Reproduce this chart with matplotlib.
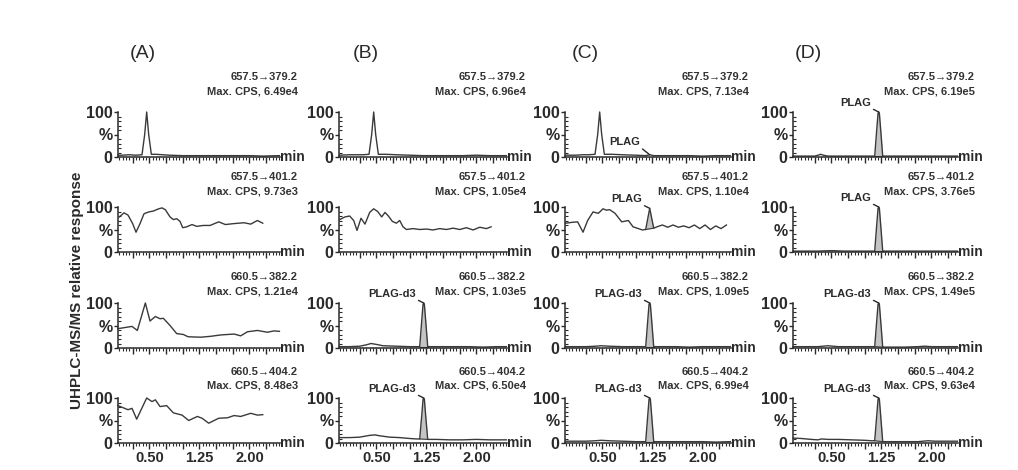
import numpy as np
import matplotlib
matplotlib.use('Agg')
import matplotlib.pyplot as plt
from matplotlib.ticker import FixedLocator, MultipleLocator

plt.rcParams['font.family'] = ['Liberation Sans', 'DejaVu Sans']
plt.rcParams['font.weight'] = 'bold'

# panel texts
columns = ['(A)', '(B)', '(C)', '(D)']
transitions = ['657.5→379.2', '657.5→401.2', '660.5→382.2', '660.5→404.2']
max_cps = [
    ['6.49e4', '9.73e3', '1.21e4', '8.48e3'],
    ['6.96e4', '1.05e4', '1.03e5', '6.50e4'],
    ['7.13e4', '1.10e4', '1.09e5', '6.99e4'],
    ['6.19e5', '3.76e5', '1.49e5', '9.63e4'],
]
x_labels = ['0.50', '1.25', '2.00']

# chromatograms (time in min, relative response in %)
a1_t = [0.03, 0.10, 0.20, 0.30, 0.39, 0.43, 0.46, 0.49, 0.53, 0.60, 0.70, 0.80, 1.00, 1.20, 1.40, 1.60, 1.80, 2.00, 2.20, 2.45]
a1_y = [4, 4, 5, 4, 5, 50, 100, 50, 6, 6, 5, 4, 3, 3, 3, 3, 3, 3, 2, 3]
a2_t = [0.05, 0.12, 0.18, 0.25, 0.30, 0.36, 0.42, 0.49, 0.56, 0.64, 0.69, 0.74, 0.81, 0.86, 0.91, 0.96, 1.00, 1.06, 1.14,
        1.21, 1.31, 1.41, 1.54, 1.64, 1.76, 1.92, 2.02, 2.12, 2.20]
a2_y = [78, 87, 82, 63, 44, 63, 85, 89, 91, 96, 98, 94, 78, 72, 74, 68, 54, 56, 61, 57, 59, 59, 67, 61, 63, 65, 62, 70, 64]
a3_t = [0.03, 0.24, 0.32, 0.44, 0.51, 0.59, 0.66, 0.71, 0.81, 0.91, 1.01, 1.08, 1.27, 1.42, 1.57, 1.77, 1.87, 1.97, 2.12,
        2.27, 2.37, 2.45]
a3_y = [43, 48, 39, 100, 60, 70, 65, 66, 50, 32, 30, 25, 24, 26, 29, 31, 27, 36, 39, 35, 38, 37]
a4_t = [0.03, 0.18, 0.24, 0.31, 0.46, 0.54, 0.59, 0.66, 0.76, 0.86, 0.99, 1.09, 1.22, 1.29, 1.39, 1.54, 1.67, 1.77, 1.87,
        2.02, 2.12, 2.20]
a4_y = [83, 74, 77, 53, 100, 92, 96, 81, 83, 67, 62, 50, 59, 55, 44, 55, 56, 61, 59, 66, 62, 63]

b1_t = [-0.05, 0.10, 0.20, 0.30, 0.39, 0.43, 0.46, 0.49, 0.53, 0.65, 0.80, 1.00, 1.20, 1.40, 1.60, 1.80, 2.00, 2.20, 2.45]
b1_y = [4, 5, 5, 5, 6, 50, 100, 50, 6, 6, 5, 4, 3, 3, 3, 3, 4, 3, 3]
b2_t = [-0.05, 0.03, 0.10, 0.16, 0.21, 0.27, 0.33, 0.40, 0.46, 0.52, 0.58, 0.63, 0.68, 0.74, 0.80, 0.85, 0.90, 0.95,
        1.05, 1.15, 1.25, 1.35, 1.45, 1.55, 1.65, 1.75, 1.85, 1.95, 2.05, 2.15, 2.22]
b2_y = [72, 78, 80, 70, 48, 75, 62, 88, 96, 90, 78, 88, 80, 68, 64, 70, 56, 50, 52, 50, 51, 49, 52, 50, 53, 50, 54, 49,
        55, 52, 56]
b3_t = [-0.05, 0.10, 0.25, 0.35, 0.42, 0.50, 0.60, 0.80, 1.00, 1.10, 1.15, 1.18, 1.20, 1.21, 1.22, 1.24, 1.27, 1.35,
        1.50, 1.70, 1.90, 2.10, 2.30, 2.45]
b3_y = [3, 3, 4, 7, 10, 8, 5, 4, 3, 3, 3, 60, 97, 100, 97, 60, 3, 3, 3, 3, 3, 2, 3, 3]
b4_t = [-0.05, 0.10, 0.25, 0.40, 0.48, 0.55, 0.70, 0.85, 1.00, 1.10, 1.15, 1.18, 1.20, 1.21, 1.22, 1.24, 1.27, 1.40,
        1.60, 1.80, 2.00, 2.20, 2.45]
b4_y = [12, 12, 13, 17, 18, 16, 13, 12, 10, 9, 9, 60, 97, 100, 97, 60, 8, 8, 7, 7, 8, 7, 7]

c1_t = [-0.05, 0.10, 0.20, 0.30, 0.39, 0.43, 0.46, 0.49, 0.53, 0.65, 0.80, 1.00, 1.15, 1.21, 1.27, 1.40, 1.60, 1.80,
        2.00, 2.20, 2.42]
c1_y = [4, 4, 5, 5, 6, 50, 100, 50, 6, 6, 5, 4, 3, 5, 3, 3, 3, 3, 2, 3, 3]
c2_t = [-0.05, 0.05, 0.13, 0.21, 0.28, 0.36, 0.44, 0.51, 0.56, 0.61, 0.69, 0.79, 0.89, 0.96, 1.04, 1.10, 1.15, 1.21,
        1.27, 1.32, 1.40, 1.48, 1.56, 1.64, 1.72, 1.80, 1.88, 1.96, 2.04, 2.12, 2.20, 2.28, 2.36]
c2_y = [64, 66, 67, 44, 70, 89, 86, 96, 93, 94, 86, 67, 70, 56, 52, 49, 50, 97, 53, 56, 60, 55, 60, 55, 58, 54, 60, 52,
        60, 50, 58, 52, 60]
c3_t = [-0.05, 0.10, 0.25, 0.40, 0.48, 0.60, 0.80, 1.00, 1.10, 1.15, 1.18, 1.20, 1.21, 1.22, 1.24, 1.27, 1.40, 1.60,
        1.80, 2.00, 2.20, 2.42]
c3_y = [3, 3, 3, 4, 5, 4, 3, 3, 3, 3, 60, 97, 100, 97, 60, 3, 3, 3, 2, 3, 3, 3]
c4_t = [-0.05, 0.10, 0.25, 0.40, 0.48, 0.60, 0.80, 1.00, 1.10, 1.15, 1.18, 1.20, 1.21, 1.22, 1.24, 1.27, 1.40, 1.60,
        1.80, 2.00, 2.20, 2.42]
c4_y = [4, 4, 4, 5, 6, 5, 4, 3, 3, 3, 60, 97, 100, 97, 60, 3, 3, 3, 3, 3, 2, 3]

d1_t = [-0.07, 0.10, 0.25, 0.30, 0.34, 0.38, 0.45, 0.60, 0.80, 1.00, 1.10, 1.15, 1.18, 1.20, 1.21, 1.22, 1.24, 1.27,
        1.40, 1.60, 1.80, 2.00, 2.20, 2.39]
d1_y = [2, 2, 2, 4, 6, 4, 2, 2, 2, 2, 2, 2, 60, 97, 100, 97, 60, 2, 2, 2, 2, 2, 2, 2]
d2_t = [-0.07, 0.10, 0.30, 0.50, 0.70, 0.90, 1.05, 1.15, 1.18, 1.20, 1.21, 1.22, 1.24, 1.27, 1.40, 1.60, 1.80, 2.00,
        2.20, 2.39]
d2_y = [2, 2, 2, 3, 2, 2, 2, 2, 60, 97, 100, 97, 60, 2, 2, 2, 2, 2, 2, 2]
d3_t = [-0.07, 0.10, 0.30, 0.45, 0.60, 0.80, 1.00, 1.15, 1.18, 1.20, 1.21, 1.22, 1.24, 1.27, 1.40, 1.60, 1.80, 1.90,
        2.00, 2.20, 2.39]
d3_y = [3, 3, 3, 5, 3, 3, 3, 3, 60, 97, 100, 97, 60, 2, 2, 2, 3, 4, 3, 3, 3]
d4_t = [-0.07, 0.05, 0.20, 0.30, 0.35, 0.45, 0.60, 0.80, 1.00, 1.10, 1.15, 1.18, 1.20, 1.21, 1.22, 1.24, 1.27, 1.40,
        1.60, 1.80, 1.95, 2.05, 2.20, 2.39]
d4_y = [11, 10, 8, 7, 9, 8, 8, 7, 6, 5, 5, 60, 97, 100, 97, 60, 3, 3, 3, 3, 5, 4, 4, 4]

traces = [
    [(a1_t, a1_y), (a2_t, a2_y), (a3_t, a3_y), (a4_t, a4_y)],
    [(b1_t, b1_y), (b2_t, b2_y), (b3_t, b3_y), (b4_t, b4_y)],
    [(c1_t, c1_y), (c2_t, c2_y), (c3_t, c3_y), (c4_t, c4_y)],
    [(d1_t, d1_y), (d2_t, d2_y), (d3_t, d3_y), (d4_t, d4_y)],
]

# labelled peaks: (col, row) -> (name, retention time, peak start, peak end)
peaks = {
    (1, 2): ('PLAG-d3', 1.21, 1.15, 1.27), (1, 3): ('PLAG-d3', 1.21, 1.15, 1.27),
    (2, 0): ('PLAG', 1.21, None, None), (2, 1): ('PLAG', 1.21, 1.15, 1.27),
    (2, 2): ('PLAG-d3', 1.21, 1.15, 1.27), (2, 3): ('PLAG-d3', 1.21, 1.15, 1.27),
    (3, 0): ('PLAG', 1.21, 1.15, 1.27), (3, 1): ('PLAG', 1.21, 1.15, 1.27),
    (3, 2): ('PLAG-d3', 1.21, 1.15, 1.27), (3, 3): ('PLAG-d3', 1.21, 1.15, 1.27),
}

# layout in pixels
W, H = 1018, 470
col_px = [(118, 280), (339, 507), (565, 731), (793, 958)]
col_t0 = [116, 343, 569, 798]
px_per_min = 66.7
row_zero = [157, 252, 348, 443]
ax_h = 45
title_x = [143, 366, 585, 808]
text_right = [298, 526, 749, 975]
text_y1 = [77, 177, 277, 372]
text_y2 = [91, 192, 292, 386]

ink = '#2a2a2a'
narrow = ['Liberation Sans Narrow', 'Liberation Sans', 'DejaVu Sans']
fig = plt.figure(figsize=(W / 100, H / 100), dpi=100)

for c in range(4):
    xl, xr = col_px[c]
    xlim = ((xl - col_t0[c]) / px_per_min, (xr - col_t0[c]) / px_per_min)
    fig.text(title_x[c] / W, 1 - 53 / H, columns[c], ha='center', va='center',
             fontsize=14, fontweight='normal', color=ink)
    for r in range(4):
        ax = fig.add_axes([xl / W, 1 - row_zero[r] / H, (xr - xl) / W, ax_h / H])
        t, y = traces[c][r]
        ax.plot(t, y, color='#3a3a3a', lw=1.0, clip_on=False)
        if (c, r) in peaks:
            name, rt, p0, p1 = peaks[(c, r)]
            if p0 is not None:
                tt = np.array(t)
                yy = np.array(y)
                m = (tt >= p0) & (tt <= p1)
                base = np.interp(tt[m], [p0, p1], [yy[m][0], yy[m][-1]])
                ax.fill_between(tt[m], base, yy[m], color='#c4c4c4', lw=0)
                ax.plot([p0, p1], [yy[m][0], yy[m][-1]], color='#3a3a3a', lw=0.8)
            top = np.interp(rt, t, y)
            off = (-10, 8) if p0 is None else (-8, 4)
            ax.annotate(name, xy=(rt, top), xytext=off, textcoords='offset pixels',
                        ha='right', va='bottom', fontsize=8, color=ink,
                        arrowprops=dict(arrowstyle='-', color=ink, lw=1,
                                        shrinkA=0, shrinkB=0, relpos=(1, 0)))
        ax.set_xlim(xlim)
        ax.set_ylim(0, 100)
        for s in ['top', 'right']:
            ax.spines[s].set_visible(False)
        for s in ['left', 'bottom']:
            ax.spines[s].set_linewidth(1.1)
            ax.spines[s].set_color(ink)
        ax.xaxis.set_major_locator(FixedLocator([0.25, 0.5, 0.75, 1.0, 1.25, 1.5, 1.75, 2.0, 2.25]))
        ax.xaxis.set_minor_locator(MultipleLocator(0.05))
        ax.set_xticklabels(['', x_labels[0], '', '', x_labels[1], '', '', x_labels[2], ''])
        ax.yaxis.set_major_locator(FixedLocator([0, 50, 100]))
        ax.yaxis.set_minor_locator(MultipleLocator(10))
        ax.set_yticklabels(['0', '%', '100'])
        ax.tick_params(axis='x', which='major', direction='out', length=4, width=1.0,
                       color=ink, labelsize=10.5, pad=2, labelbottom=(r == 3))
        ax.tick_params(axis='x', which='minor', direction='out', length=2.5, width=0.8, color=ink)
        ax.tick_params(axis='y', which='major', direction='out', length=3, width=1.0,
                       color=ink, labelsize=11.5, pad=1)
        ax.tick_params(axis='y', which='minor', direction='in', length=2.5, width=0.8, color=ink)
        for lab in ax.get_xticklabels():
            lab.set_family(narrow)
        for lab in ax.get_xticklabels() + ax.get_yticklabels():
            lab.set_fontweight('bold')
            lab.set_color(ink)
        ax.text(1.0, 0, 'min', transform=ax.transAxes, ha='left', va='center',
                fontsize=10, color=ink)
        fig.text(text_right[c] / W, 1 - text_y1[r] / H, transitions[r], ha='right', va='center',
                 fontsize=8, color='#333333')
        fig.text(text_right[c] / W, 1 - text_y2[r] / H, 'Max. CPS, ' + max_cps[c][r], ha='right',
                 va='center', fontsize=8, color='#333333')

fig.text(77 / W, 1 - 290 / H, 'UHPLC-MS/MS relative response', rotation=90, ha='center',
         va='center', fontsize=11, color=ink)

fig.savefig('out.png', dpi=100)
